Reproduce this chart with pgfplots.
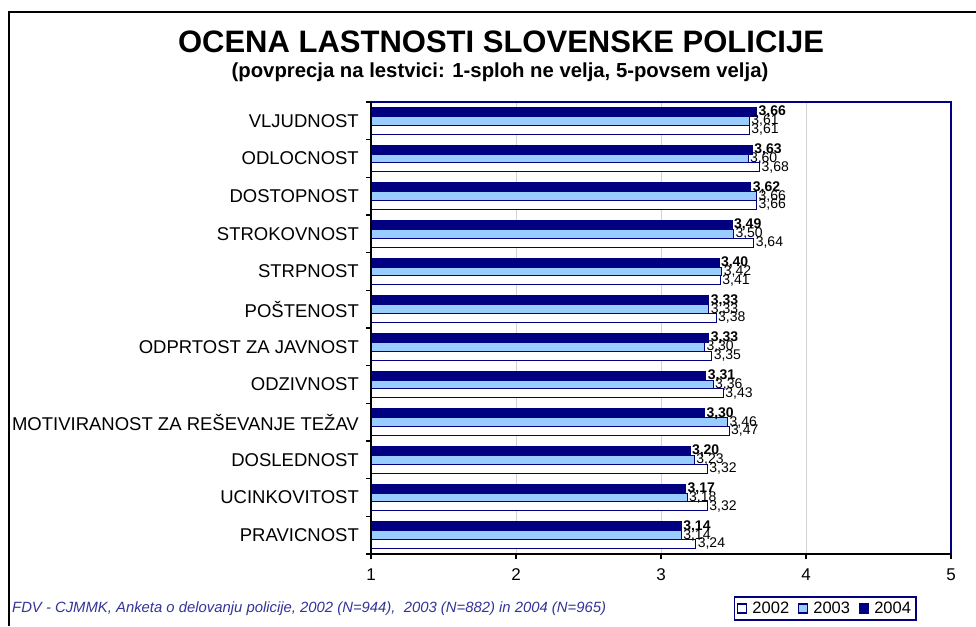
\documentclass[border=0pt]{standalone}
\usepackage{fontspec}
\setmainfont{Liberation Sans}
\usepackage{pgfplots}
\usepackage{pgfplotstable}
\pgfplotsset{compat=1.18}
\definecolor{navy}{RGB}{0,0,128}
\definecolor{lblue}{RGB}{153,204,255}
\definecolor{foot}{RGB}{51,51,153}
\definecolor{gridgray}{RGB}{210,210,210}

\pgfplotstableread{
idx v2002 v2003 v2004
11 3.61 3.61 3.66
10 3.68 3.60 3.63
9 3.66 3.66 3.62
8 3.64 3.50 3.49
7 3.41 3.42 3.40
6 3.38 3.33 3.33
5 3.35 3.30 3.33
4 3.43 3.36 3.31
3 3.47 3.46 3.30
2 3.32 3.23 3.20
1 3.32 3.18 3.17
0 3.24 3.14 3.14
}\data

\begin{document}
\begin{tikzpicture}
\useasboundingbox (0pt,0pt) rectangle (976pt,626pt);
\draw[line width=1.6pt] (9pt,0pt) -- (9pt,614pt) -- (976pt,614pt);
\node[anchor=base, font=\fontsize{31}{36}\selectfont\bfseries] at (501pt,573pt) {OCENA LASTNOSTI SLOVENSKE POLICIJE};
\node[anchor=base, font=\fontsize{20.3}{24}\selectfont\bfseries] at (500pt,548pt) {(povprecja na lestvici: 1-sploh ne velja, 5-povsem velja)};
\node[anchor=base west, inner sep=0pt, text=foot, font=\fontsize{14.85}{17}\selectfont\itshape] at (12pt,14pt) {FDV - CJMMK, Anketa o delovanju policije, 2002 (N=944),\ \ 2003 (N=882) in 2004 (N=965)};
\begin{axis}[
  at={(371pt,72pt)}, anchor=south west,
  scale only axis, width=580pt, height=452pt,
  xmin=1, xmax=5, ymin=-0.5, ymax=11.5,
  axis line style={navy, line width=1.2pt},
  xtick={1,2,3,4,5},
  xtick pos=bottom, ytick pos=left,
  xticklabel style={font=\fontsize{17}{20}\selectfont, yshift=-6pt},
  /pgf/number format/assume math mode=true,
  tick align=outside,
  major tick length=5pt,
  tick style={black, line width=1.2pt},
  xmajorgrids, grid style={gridgray, line width=0.8pt},
  ytick={-0.5,0.5,...,11.5}, yticklabels={},
  extra y ticks={0,1,2,3,4,5,6,7,8,9,10,11},
  extra y tick labels={PRAVICNOST,UCINKOVITOST,DOSLEDNOST,MOTIVIRANOST ZA REŠEVANJE TEŽAV,ODZIVNOST,ODPRTOST ZA JAVNOST,POŠTENOST,STRPNOST,STROKOVNOST,DOSTOPNOST,ODLOCNOST,VLJUDNOST},
  extra y tick style={major tick length=0pt, ymajorgrids=false, yticklabel style={font=\fontsize{18.5}{22}\selectfont, anchor=east, inner sep=0pt, xshift=-12pt}},
  bar width=8.8pt,
  point meta=x,
  nodes near coords={\pgfmathprintnumber[fixed,fixed zerofill,precision=2,use comma]{\pgfplotspointmeta}},
  nodes near coords style={anchor=west, inner sep=1.5pt, font=\fontsize{14}{14}\selectfont},
  legend columns=3,
  legend style={at={(0.783,-0.1206)}, anchor=center, draw=navy, line width=1.2pt, font=\fontsize{16.5}{19}\selectfont, inner sep=3pt, column sep=3pt, /tikz/every even column/.append style={column sep=7pt}},
  legend image code/.code={\draw[#1, line width=1.2pt] (0pt,-4.5pt) rectangle (9pt,4.5pt);},
  clip=false,
]
\addplot[xbar, fill=white, draw=navy, line width=1pt, bar shift=-8.8pt, nodes near coords style={yshift=-8.8pt}] table[x=v2002, y=idx] {\data};
\addplot[xbar, fill=lblue, draw=navy, line width=1pt, bar shift=0pt] table[x=v2003, y=idx] {\data};
\addplot[xbar, fill=navy, draw=navy, line width=1pt, bar shift=8.8pt, nodes near coords style={yshift=8.8pt, font=\fontsize{14}{14}\selectfont\bfseries}] table[x=v2004, y=idx] {\data};
\legend{2002,2003,2004}
\draw[black, line width=1.4pt] (rel axis cs:0,1) -- (rel axis cs:0,0) -- (rel axis cs:1,0);
\end{axis}
\end{tikzpicture}
\end{document}
